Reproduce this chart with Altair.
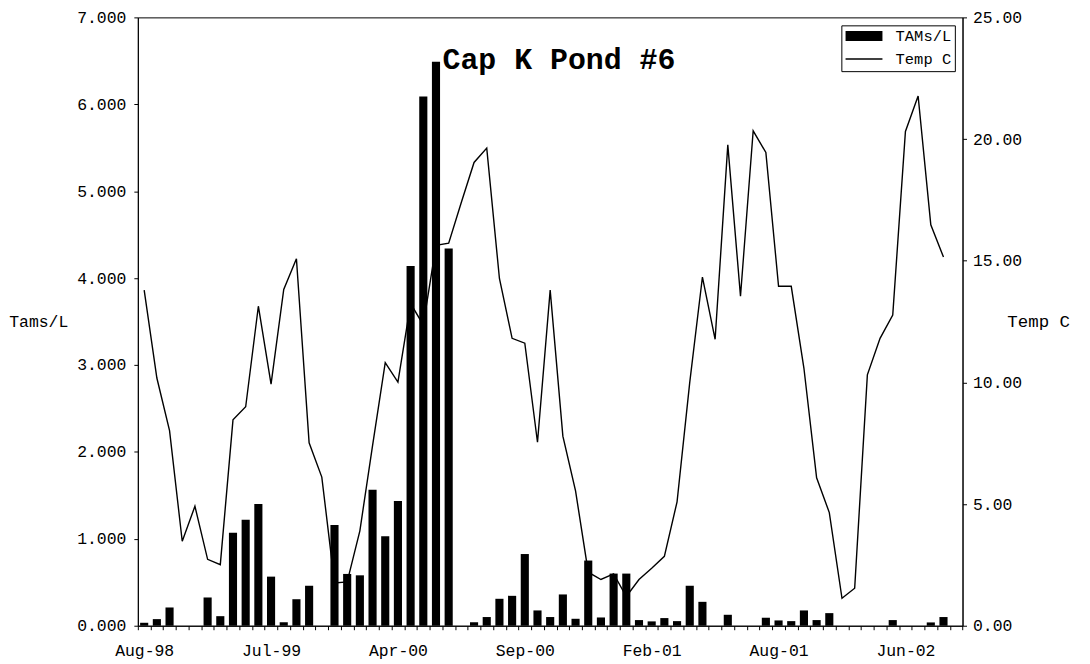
import altair as alt
import pandas as pd

# TAMs/L per sample (None = no bar)
tams = [0.034, 0.076, 0.21, None, None, 0.325, 0.11, 1.07, 1.22, 1.40,
        0.565, 0.04, 0.305, 0.46, None, 1.16, 0.596, 0.58, 1.566, 1.03,
        1.435, 4.14, 6.09, 6.49, 4.34, None, 0.04, 0.10, 0.31, 0.344,
        0.825, 0.176, 0.10, 0.36, 0.08, 0.75, 0.095, 0.60, 0.60, 0.065,
        0.05, 0.088, 0.053, 0.46, 0.275, None, 0.126, None, None, 0.092,
        0.061, 0.053, 0.176, 0.065, 0.145, None, None, None, None, 0.065,
        None, None, 0.038, 0.10, None]

# Temperature (C) per sample
temp = [13.79, 10.18, 8.02, 3.47, 4.91, 2.73, 2.51, 8.46, 9.0, 13.13,
        9.93, 13.82, 15.08, 7.52, 6.11, 1.76, 1.8, 3.9, 7.4, 10.81,
        10.01, 13.24, 12.36, 15.63, 15.72, 17.4, 19.04, 19.63, 14.27, 11.81,
        11.61, 7.54, 13.79, 7.79, 5.54, 2.20, 1.90, 2.13, 1.2, 1.90,
        2.36, 2.85, 5.09, 10.0, 14.33, 11.77, 19.76, 13.54, 20.34, 19.45,
        13.95, 13.95, 10.58, 6.08, 4.65, 1.13, 1.54, 10.31, 11.81, 12.77,
        20.31, 21.77, 16.48, 15.15, None]

tick_labels = ["Aug-98", "Jul-99", "Apr-00", "Sep-00", "Feb-01", "Aug-01", "Jun-02"]
label_every = 10
series = ["TAMs/L", "Temp C"]
left_ticks = [0, 1, 2, 3, 4, 5, 6, 7]
right_ticks = [0, 5, 10, 15, 20, 25]

df = pd.DataFrame({"idx": list(range(len(tams))), "tams": tams, "temp": temp})

FONT = "Liberation Mono"
FS = 16.5
W, H = 828.3, 611

lab_arr = "[" + ",".join("'%s'" % s for s in tick_labels) + "]"
label_expr = "datum.value %% %d == 0 ? %s[datum.value / %d] : ''" % (label_every, lab_arr, label_every)

x_axis = alt.Axis(title=None, labelExpr=label_expr, labelAngle=0, tickBand="extent",
                  tickSize=4, labelPadding=13, labelBaseline="top",
                  labelOverlap=False, labelBound=False, labelFlush=False,
                  labelFont=FONT, labelFontSize=FS, labelColor="black",
                  domainColor="black", tickColor="black", grid=False)
x_enc = alt.X("idx:O", scale=alt.Scale(paddingInner=0, paddingOuter=0), axis=x_axis)

line = alt.Chart(df).mark_line(color="black", strokeWidth=1.4).encode(
    x=x_enc,
    y=alt.Y("temp:Q", scale=alt.Scale(domain=[0, 25], nice=False, zero=True),
            axis=alt.Axis(orient="right", title="Temp C", values=right_ticks, format=".2f",
                          tickSize=4, labelPadding=6, labelFont=FONT, labelFontSize=FS,
                          labelColor="black", domainColor="black", tickColor="black",
                          grid=False, titleAngle=0, titleX=76, titleY=H / 2,
                          titleAlign="center", titleBaseline="middle", titleFont=FONT,
                          titleFontSize=17.5, titleFontWeight="normal", titleColor="black")),
)

bars = alt.Chart(df).mark_bar(color="black", width=alt.RelativeBandSize(0.64)).encode(
    x=x_enc,
    y=alt.Y("tams:Q", scale=alt.Scale(domain=[0, 7], nice=False, zero=True),
            axis=alt.Axis(orient="left", title="Tams/L", values=left_ticks, format=".3f",
                          tickSize=4, labelPadding=8, labelFont=FONT, labelFontSize=FS,
                          labelColor="black", domainColor="black", tickColor="black",
                          grid=False, titleAngle=0, titleX=-100, titleY=H / 2,
                          titleAlign="center", titleBaseline="middle", titleFont=FONT,
                          titleFontSize=FS, titleFontWeight="normal", titleColor="black")),
)

rect_path = "M-2.47,-0.67H2.47V0.67H-2.47Z"
thin_path = "M-2.47,-0.09H2.47V0.09H-2.47Z"

leg = alt.Chart(pd.DataFrame({"series": series})).transform_filter("false").mark_point(
    filled=True, color="black", opacity=1
).encode(
    shape=alt.Shape("series:N",
                    scale=alt.Scale(domain=series, range=[rect_path, thin_path]),
                    legend=alt.Legend(title=None, orient="none", legendX=706.6, legendY=8,
                                      strokeColor="black", fillColor="white", padding=3,
                                      symbolSize=225, symbolOffset=12, labelOffset=24,
                                      rowPadding=6, labelFont=FONT, labelFontSize=15.5,
                                      labelColor="black", symbolFillColor="black",
                                      symbolStrokeWidth=0, symbolOpacity=1))
)

chart = alt.layer(line, bars, leg).resolve_scale(y="independent").properties(
    width=W, height=H,
    autosize=alt.AutoSizeParams(type="none"),
    padding={"left": 130.4, "top": 8, "right": 120, "bottom": 36},
    title=alt.TitleParams("Cap K Pond #6", font=FONT, fontSize=30, fontWeight="bold",
                          anchor="start", frame="group", orient="top", offset=0,
                          baseline="alphabetic", dx=306, dy=90, color="black"),
).configure_view(stroke="black", strokeWidth=1).configure_axis(
    domainWidth=1, tickWidth=1
)

chart.save("out.html", embed_options={"renderer": "svg", "actions": False})
